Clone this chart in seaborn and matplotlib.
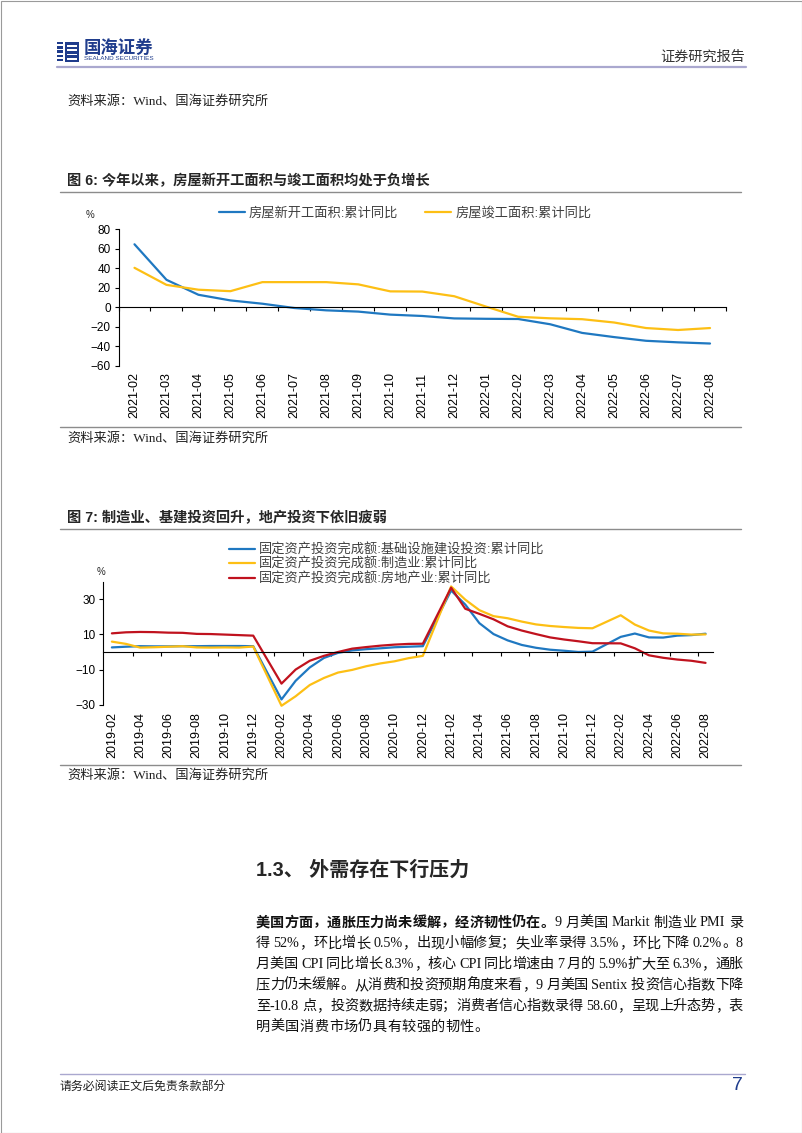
import re
import pandas as pd
import seaborn as sns
import matplotlib.pyplot as plt
from matplotlib.patches import Rectangle

# ---- figure 6 data: housing new starts / completions, cumulative yoy (%)
months1 = ['2021-02', '2021-03', '2021-04', '2021-05', '2021-06', '2021-07', '2021-08',
           '2021-09', '2021-10', '2021-11', '2021-12', '2022-01', '2022-02', '2022-03',
           '2022-04', '2022-05', '2022-06', '2022-07', '2022-08']
new_start = [64.6, 28.1, 12.7, 6.9, 3.5, -0.9, -3.3, -4.6, -7.7, -9.1, -11.6, -12.0,
             -12.2, -17.6, -26.5, -30.8, -34.6, -36.2, -37.4]
completed = [40.4, 22.9, 17.9, 16.4, 25.7, 25.7, 25.7, 23.4, 16.2, 16.0, 11.2, 0.5,
             -9.9, -11.5, -12.4, -15.8, -21.5, -23.5, -21.5]
names1 = ['房屋新开工面积:累计同比', '房屋竣工面积:累计同比']

# ---- figure 7 data: FAI cumulative yoy (%), monthly 2019-02 .. 2022-08 (Jan missing)
ticks2 = ['2019-02', '2019-04', '2019-06', '2019-08', '2019-10', '2019-12',
          '2020-02', '2020-04', '2020-06', '2020-08', '2020-10', '2020-12',
          '2021-02', '2021-04', '2021-06', '2021-08', '2021-10', '2021-12',
          '2022-02', '2022-04', '2022-06', '2022-08']
infra = [2.6, 3.0, 3.3, 3.2, 3.2, 3.3, 3.3, 3.4, 3.4, 3.4, 3.3, None,
         -27.0, -16.4, -8.8, -3.4, -0.5, 0.9, 1.6, 2.1, 2.7, 3.0, 3.3, None,
         35.0, 27.0, 16.4, 10.2, 6.6, 4.0, 2.4, 1.3, 0.7, 0.0, 0.2, None,
         8.6, 10.5, 8.3, 8.2, 9.3, 9.6, 10.4]
manuf = [5.9, 4.6, 2.5, 2.7, 3.0, 3.3, 2.6, 2.5, 2.6, 2.5, 3.1, None,
         -30.6, -25.2, -18.8, -14.8, -11.7, -10.2, -8.1, -6.5, -5.3, -3.5, -2.2, None,
         37.3, 29.8, 23.8, 20.4, 19.2, 17.3, 15.7, 14.8, 14.2, 13.7, 13.5, None,
         20.9, 15.6, 12.2, 10.6, 10.4, 9.9, 10.0]
estate = [10.6, 11.2, 11.4, 11.3, 11.0, 10.9, 10.3, 10.2, 9.9, 9.6, 9.3, None,
          -18.0, -10.0, -5.0, -2.2, 0.0, 1.9, 2.8, 3.6, 4.2, 4.6, 4.7, None,
          36.6, 24.6, 21.7, 18.6, 14.6, 12.2, 10.2, 8.3, 7.1, 6.1, 5.0, None,
          4.9, 2.1, -1.9, -3.3, -4.3, -5.0, -6.2]
names2 = ['固定资产投资完成额:基础设施建设投资:累计同比',
          '固定资产投资完成额:制造业:累计同比',
          '固定资产投资完成额:房地产业:累计同比']

BLUE, YELLOW, RED = '#1f78c1', '#fdbf14', '#c0121e'

sns.set_style('white')
plt.rcParams['font.family'] = ['Liberation Sans', 'Noto Sans CJK SC']
SERIF = ['Liberation Serif', 'Noto Sans CJK SC']

W, H = 802, 1133
fig = plt.figure(figsize=(W / 100, H / 100), dpi=100)
page = fig.add_axes([0, 0, 1, 1], zorder=-1)
page.set_xlim(0, W)
page.set_ylim(H, 0)
page.axis('off')


def box(left, top, right, bottom):
    return [left / W, 1 - bottom / H, (right - left) / W, (bottom - top) / H]


def style_axis(ax, ylim, yticks, xlim, label_pos, labels, minor):
    ax.set_xlim(*xlim)
    ax.set_ylim(*ylim)
    for s in ['top', 'right']:
        ax.spines[s].set_visible(False)
    for s in ['left', 'bottom']:
        ax.spines[s].set_color('black')
        ax.spines[s].set_linewidth(0.8)
    # x axis crosses at 0, labels stay at the bottom of the plot
    ax.spines['bottom'].set_position(('data', 0))
    ax.set_yticks(yticks)
    ax.set_xticks(label_pos, labels)
    ax.set_xticks(minor, minor=True)
    ax.set_xlabel('')
    ax.set_ylabel('')
    h_px = ax.get_position().height * H
    pad_px = (0 - ylim[0]) / (ylim[1] - ylim[0]) * h_px + 7
    ax.tick_params(axis='x', which='major', bottom=True, length=0, labelrotation=90,
                   pad=pad_px * 0.72, labelsize=9, labelcolor='black')
    ax.tick_params(axis='x', which='minor', bottom=True, length=3,
                   width=0.8, direction='out', color='black')
    ax.tick_params(axis='y', left=True, length=3, width=0.8, direction='out',
                   pad=2.5, labelsize=8.5, labelcolor='black', color='black')
    for line in ax.get_lines():
        line.set_clip_on(False)


# ---------------- header ----------------
page.add_patch(Rectangle((0.5, 0.5), W - 1, H - 1, fill=False, ec='#9a9a9a', lw=0.8))
for i in range(5):
    page.add_patch(Rectangle((57, 42 + i * 4.2), 6, 2.4, color='#1f3c8c', lw=0))
page.add_patch(Rectangle((65, 42), 14, 20, color='#1f3c8c', lw=0))
for i in range(4):
    page.add_patch(Rectangle((67, 45 + i * 4.3), 10, 1.6, color='white', lw=0))
page.text(84, 47, '国海证券', fontsize=12.5, fontweight='bold', color='#1f3c8c',
          va='center', ha='left')
page.text(84, 59, 'SEALAND SECURITIES', fontsize=4.6, color='#1f3c8c',
          va='center', ha='left')
page.text(745, 57, '证券研究报告', fontsize=10.2, color='#333333', va='center', ha='right')
page.plot([57, 746], [67, 67], color='#aaa8cf', lw=1.6)
page.text(67, 101, '资料来源：Wind、国海证券研究所', fontsize=9.5, family=SERIF,
          color='#222222', va='center')

# ---------------- figure 6 ----------------
page.text(67, 181, '图 6: 今年以来，房屋新开工面积与竣工面积均处于负增长', fontsize=10.3,
          fontweight='bold', va='center')
page.plot([60, 741], [191.5, 191.5], color='#8c8c8c', lw=1)

df1 = pd.DataFrame({
    'idx': list(range(len(months1))) * 2,
    'value': new_start + completed,
    'series': [names1[0]] * len(months1) + [names1[1]] * len(months1),
})
ax1 = fig.add_axes(box(118.5, 229.3, 726, 365.5))
sns.lineplot(data=df1, x='idx', y='value', hue='series', palette=[BLUE, YELLOW],
             linewidth=1.6, estimator=None, sort=False, legend=False, ax=ax1)
lines1 = ax1.get_lines()[:2]
style_axis(ax1, (-60, 80), range(-60, 81, 20), (-0.5, len(months1) - 0.5),
           range(len(months1)), months1, [i + 0.5 for i in range(-1, len(months1))])
ax1.legend(lines1, names1, loc='center', bbox_to_anchor=(405 / W, 1 - 213 / H),
           bbox_transform=fig.transFigure, ncol=2, frameon=False, fontsize=9.5,
           handlelength=2.0, handletextpad=0.3, columnspacing=2.0, labelcolor='#404040',
           borderpad=0, borderaxespad=0)
page.text(90, 215, '%', fontsize=7, ha='center', va='center')
page.plot([60, 741], [427, 427], color='#8c8c8c', lw=1)
page.text(67, 438, '资料来源：Wind、国海证券研究所', fontsize=9.5, family=SERIF,
          color='#222222', va='center')

# ---------------- figure 7 ----------------
page.text(67, 518, '图 7: 制造业、基建投资回升，地产投资下依旧疲弱', fontsize=10.3,
          fontweight='bold', va='center')
page.plot([60, 741], [528.5, 528.5], color='#8c8c8c', lw=1)

n2 = len(infra)
df2 = pd.DataFrame({
    'idx': list(range(n2)) * 3,
    'value': infra + manuf + estate,
    'series': [names2[0]] * n2 + [names2[1]] * n2 + [names2[2]] * n2,
}).dropna()
ax2 = fig.add_axes(box(103.4, 581.7, 712.6, 704.7))
sns.lineplot(data=df2, x='idx', y='value', hue='series', hue_order=names2,
             palette=[BLUE, YELLOW, RED], linewidth=1.6, estimator=None, sort=False,
             legend=False, ax=ax2)
lines2 = ax2.get_lines()[:3]
style_axis(ax2, (-30, 40), [-30, -10, 10, 30], (-0.6, n2 - 0.5),
           range(0, n2, 2), ticks2, [i + 0.5 for i in range(1, n2 - 1, 2)])
ax2.legend(lines2, names2, loc='upper left', bbox_to_anchor=(229 / W, 1 - 543.5 / H),
           bbox_transform=fig.transFigure, ncol=1, frameon=False, fontsize=9.5,
           handlelength=2.0, handletextpad=0.3, labelspacing=0.1, labelcolor='#404040',
           borderpad=0, borderaxespad=0)
page.text(101, 572, '%', fontsize=7, ha='center', va='center')
page.plot([60, 741], [765, 765], color='#8c8c8c', lw=1)
page.text(67, 775, '资料来源：Wind、国海证券研究所', fontsize=9.5, family=SERIF,
          color='#222222', va='center')

# ---------------- section text ----------------
page.text(256, 870, '1.3、 外需存在下行压力', fontsize=14.4, fontweight='bold',
          va='center', ha='left')

para = [
    [('美国方面，通胀压力尚未缓解，经济韧性仍在。', 'bold'),
     ('9 月美国 Markit 制造业 PMI 录', 'normal')],
    [('得 52%，环比增长 0.5%，出现小幅修复；失业率录得 3.5%，环比下降 0.2%。8', 'normal')],
    [('月美国 CPI 同比增长 8.3%，核心 CPI 同比增速由 7 月的 5.9%扩大至 6.3%，通胀', 'normal')],
    [('压力仍未缓解。从消费和投资预期角度来看，9 月美国 Sentix 投资信心指数下降', 'normal')],
    [('至-10.8 点，投资数据持续走弱；消费者信心指数录得 58.60，呈现上升态势，表', 'normal')],
    [('明美国消费市场仍具有较强的韧性。', 'normal')],
]
renderer = fig.canvas.get_renderer()
size = 10.2
em = size * 100 / 72
for k, runs in enumerate(para):
    toks = []
    for s, w in runs:
        for t in re.findall(r'[A-Za-z0-9.%\-]+|\s|.', s):
            toks.append((t, w))
    widths = []
    for t, w in toks:
        if t == ' ':
            widths.append(0.25 * em)
        elif ord(t[0]) > 0x2e80:
            widths.append(em)
        else:
            tmp = page.text(0, 0, t, fontsize=size, fontweight=w, family='Liberation Serif')
            widths.append(tmp.get_window_extent(renderer).width)
            tmp.remove()
    justify = k < len(para) - 1
    gap = (743 - 256 - sum(widths)) / (len(toks) - 1) if justify else 0.4
    x = 256
    y = 926.5 + k * 20.8
    for (t, w), wd in zip(toks, widths):
        if t != ' ':
            fam = 'Noto Sans CJK SC' if ord(t[0]) > 0x2e80 else 'Liberation Serif'
            page.text(x, y, t, fontsize=size, fontweight=w, family=fam,
                      color='#111111', ha='left', va='baseline')
        x += wd + gap

# ---------------- footer ----------------
page.plot([60, 745], [1073.5, 1073.5], color='#aaa8cf', lw=1)
page.text(60, 1087, '请务必阅读正文后免责条款部分', fontsize=8.6, family=SERIF,
          color='#222222', va='center')
page.text(743, 1086, '7', fontsize=14, color='#1f3c8c', ha='right', va='center')

fig.savefig('out.png', dpi=100)
